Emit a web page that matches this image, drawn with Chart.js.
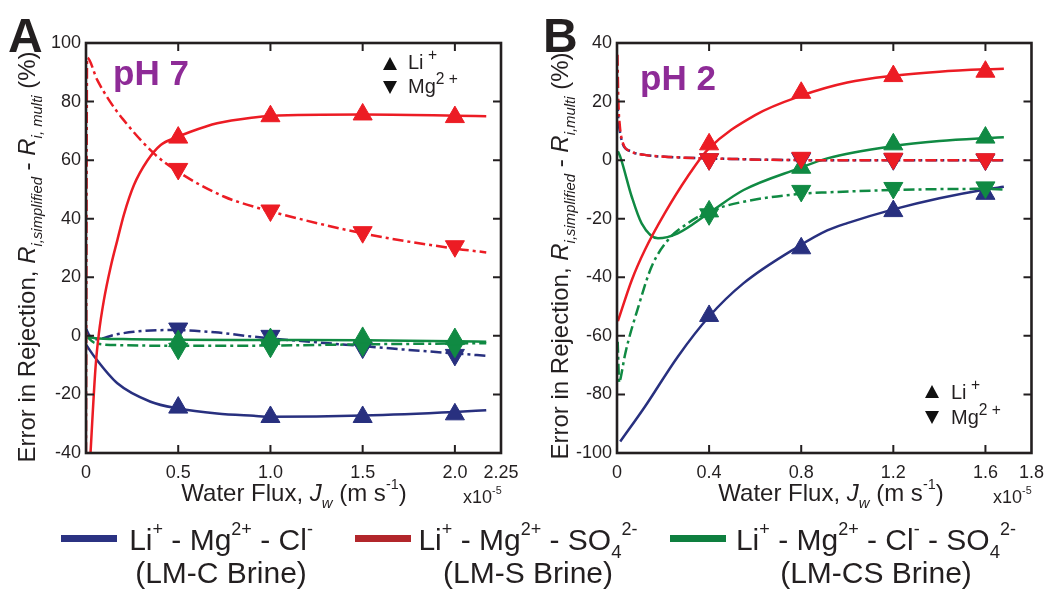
<!DOCTYPE html>
<html>
<head>
<meta charset="utf-8">
<script src="https://cdn.jsdelivr.net/npm/chart.js@4.4.1/dist/chart.umd.min.js"></script>
<style>
  html, body { margin: 0; padding: 0; background: #fff; }
  #page { position: relative; width: 1053px; height: 590px; overflow: hidden;
          font-family: 'Liberation Sans', Arial, sans-serif; color: #231F20; }
  canvas { position: absolute; top: 0; }
  .txt { position: absolute; white-space: nowrap; line-height: 1; }
  .letter { font-size: 48px; font-weight: bold; color: #231F20; }
  .ph { font-size: 35px; font-weight: bold; color: #8E2B97; }
  .anchor { position: absolute; width: 0; height: 0; }
  .rot { position: absolute; left: 0; top: 0; white-space: nowrap; line-height: 1;
         font-size: 24px; transform: translate(-50%, -50%) rotate(-90deg); }
  .xt { font-size: 24px; transform: translateX(-50%); }
  .sub { font-size: 0.62em; position: relative; top: 0.45em; line-height: 0; }
  .sup { font-size: 0.6em; position: relative; top: -0.85em; line-height: 0; }
  .ins .sup { font-size: 0.78em; top: -0.55em; }
  .tri-up { position: absolute; width: 0; height: 0; border-left: 7.5px solid transparent;
            border-right: 7.5px solid transparent; border-bottom: 13px solid #111; }
  .tri-dn { position: absolute; width: 0; height: 0; border-left: 7.5px solid transparent;
            border-right: 7.5px solid transparent; border-top: 13px solid #111; }
  .ins { font-size: 20px; }
  .bar { position: absolute; height: 7px; width: 56px; }
  .leg { position: absolute; font-size: 30px; line-height: 33px; text-align: center;
         transform: translateX(-50%); white-space: nowrap; }
</style>
</head>
<body>
<div id="page">
  <canvas id="chartA" width="530" height="520" style="left:0"></canvas>
  <canvas id="chartB" width="523" height="520" style="left:530px"></canvas>

  <div class="txt letter" style="left:8px;top:12px">A</div>
  <div class="txt letter" style="left:543px;top:12px">B</div>
  <div class="txt ph" style="left:113px;top:55px">pH 7</div>
  <div class="txt ph" style="left:640px;top:60px">pH 2</div>

  <div class="tri-up" style="left:383px;top:57px"></div>
  <div class="tri-dn" style="left:383px;top:81px"></div>
  <div class="txt ins" style="left:408px;top:52px">Li<span class="sup">&nbsp;+</span></div>
  <div class="txt ins" style="left:408px;top:76px">Mg<span class="sup">2&nbsp;+</span></div>

  <div class="tri-up" style="left:925px;top:385px"></div>
  <div class="tri-dn" style="left:925px;top:411px"></div>
  <div class="txt ins" style="left:951px;top:382px">Li<span class="sup">&nbsp;+</span></div>
  <div class="txt ins" style="left:951px;top:407px">Mg<span class="sup">2&nbsp;+</span></div>

  <div class="anchor" style="left:27px;top:257px"><div class="rot">Error in Rejection, <i>R</i><span class="sub"><i>i,simplified</i></span> - <i>R</i><span class="sub"><i>i, multi</i></span> (%)</div></div>
  <div class="anchor" style="left:560px;top:256px"><div class="rot">Error in Rejection, <i>R</i><span class="sub"><i>i,simplified</i></span> - <i>R</i><span class="sub"><i>i,multi</i></span> (%)</div></div>

  <div class="txt xt" style="left:294px;top:481px">Water Flux, <i>J</i><span class="sub"><i>w</i></span> (m s<span class="sup">-1</span>)</div>
  <div class="txt xt" style="left:831px;top:481px">Water Flux, <i>J</i><span class="sub"><i>w</i></span> (m s<span class="sup">-1</span>)</div>
  <div class="txt" style="left:463px;top:488px;font-size:18px">x10<span class="sup">-5</span></div>
  <div class="txt" style="left:993px;top:488px;font-size:18px">x10<span class="sup">-5</span></div>

  <div class="bar" style="left:61px;top:535px;background:#2B3282"></div>
  <div class="leg" style="left:221px;top:523px">Li<span class="sup">+</span> - Mg<span class="sup">2+</span> - Cl<span class="sup">-</span><br>(LM-C Brine)</div>
  <div class="bar" style="left:355px;top:535px;background:#B2262B"></div>
  <div class="leg" style="left:528px;top:523px">Li<span class="sup">+</span> - Mg<span class="sup">2+</span> - SO<span class="sub">4</span><span class="sup">2-</span><br>(LM-S Brine)</div>
  <div class="bar" style="left:670px;top:535px;background:#0E7F3F"></div>
  <div class="leg" style="left:876px;top:523px">Li<span class="sup">+</span> - Mg<span class="sup">2+</span> - Cl<span class="sup">-</span> - SO<span class="sub">4</span><span class="sup">2-</span><br>(LM-CS Brine)</div>
</div>

<script>
// ---- panel A, pH 7 ----
const ticksXA = [0, 0.5, 1.0, 1.5, 2.0, 2.25];
const labelsXA = ['0', '0.5', '1.0', '1.5', '2.0', '2.25'];
const ticksYA = [-40, -20, 0, 20, 40, 60, 80, 100];
const fluxA = [0.5, 1.0, 1.5, 2.0];
const liA_C  = [-24.5, -27.7, -27.7, -26.8];
const mgA_C  = [2.5, 0, -4, -6.5];
const liA_S  = [67.7, 75, 75.6, 74.7];
const mgA_S  = [57, 42.8, 35.4, 30.6];
const liA_CS = [-1.8, -1.1, -0.7, -1.1];
const mgA_CS = [-4.4, -3.7, -3.3, -3.7];

// model curves, pH 7
const cxA_C_li = [0, 0.05, 0.17, 0.35, 0.5, 0.71, 0.91, 1.0, 1.5, 2.0, 2.17];
const cyA_C_li = [-3, -7.5, -16.2, -22.5, -24.8, -26.5, -27.3, -27.6, -27.2, -26, -25.4];
const cxA_C_mg = [0, 0.02, 0.06, 0.15, 0.26, 0.48, 0.7, 0.91, 1.25, 1.5, 1.75, 2.0, 2.17];
const cyA_C_mg = [2.5, 0, -1.2, 0.3, 1.4, 2, 1.2, -0.3, -2.2, -3.5, -4.8, -6, -6.8];
const cxA_S_li = [0.02, 0.052, 0.07, 0.097, 0.134, 0.17, 0.206, 0.26, 0.332, 0.405, 0.5, 0.567, 0.711, 0.91, 1.0, 1.5, 2.0, 2.17];
const cyA_S_li = [-45, -10.5, 0.9, 12.2, 23.6, 32.7, 41.5, 51.5, 59.8, 65.2, 68, 69.7, 72.6, 74.6, 75.1, 75.6, 75.2, 75];
const cxA_S_mg = [0, 0.006, 0.06, 0.125, 0.2, 0.368, 0.5, 0.75, 0.91, 1.0, 1.5, 2.0, 2.17];
const cyA_S_mg = [-40, 95, 87.5, 80.5, 74, 62.3, 56, 47.5, 44.1, 42.5, 35, 29.8, 28.5];
const cxA_CS_li = [0, 0.05, 0.2, 0.5, 1.0, 1.5, 2.0, 2.17];
const cyA_CS_li = [-0.3, -0.8, -1.1, -1.3, -1.4, -1.5, -1.8, -2];
const cxA_CS_mg = [0, 0.05, 0.2, 0.5, 1.0, 1.5, 2.0, 2.17];
const cyA_CS_mg = [0, -2.5, -3.2, -3.4, -3.3, -2.9, -2.6, -2.5];

// ---- panel B, pH 2 ----
const ticksXB = [0, 0.4, 0.8, 1.2, 1.6, 1.8];
const labelsXB = ['0', '0.4', '0.8', '1.2', '1.6', '1.8'];
const ticksYB = [-100, -80, -60, -40, -20, 0, 20, 40];
const fluxB = [0.4, 0.8, 1.2, 1.6];
const liB_C  = [-53.2, -30.1, -17.4, -11.5];
const mgB_C  = [0.3, 0.5, 0.3, 0.2];
const liB_S  = [5.4, 23, 28.7, 30.2];
const mgB_S  = [0.3, 0.8, 0.5, 0.3];
const liB_CS = [-17.5, -2.6, 5.4, 7.7];
const mgB_CS = [-18.5, -10.5, -9.5, -9.3];

// model curves, pH 2
const cxB_C_li = [0.014, 0.121, 0.264, 0.4, 0.55, 0.785, 0.913, 1.0, 1.2, 1.4, 1.6, 1.68];
const cyB_C_li = [-96.1, -84.2, -67.1, -53.4, -42, -29.6, -24, -21.5, -16.8, -13, -10, -9.1];
const cxB_C_mg = [0.002, 0.006, 0.012, 0.025, 0.06, 0.12, 0.25, 0.5, 0.8, 1.2, 1.6, 1.68];
const cyB_C_mg = [20.5, 14, 10, 5.5, 3, 1.8, 1, 0.4, 0, 0, 0, 0];
const cxB_S_li = [0.004, 0.064, 0.121, 0.207, 0.307, 0.393, 0.6, 0.8, 1.0, 1.2, 1.4, 1.6, 1.68];
const cyB_S_li = [-55, -41, -30.7, -18.2, -5.6, 3.5, 15.4, 22, 26.5, 28.8, 30.2, 31, 31.2];
const cxB_S_mg = [0.002, 0.006, 0.012, 0.025, 0.06, 0.12, 0.25, 0.5, 0.8, 1.2, 1.6, 1.68];
const cyB_S_mg = [36, 20, 12, 6, 3, 1.8, 1, 0.4, 0, 0, 0, 0];
const cxB_CS_li = [0.004, 0.014, 0.064, 0.107, 0.178, 0.264, 0.4, 0.55, 0.79, 0.913, 1.2, 1.4, 1.6, 1.68];
const cyB_CS_li = [3, 1.2, -12.5, -21.6, -26.7, -25, -18, -10.2, -2.8, 0.6, 4.8, 6.5, 7.5, 7.8];
const cxB_CS_mg = [0.003, 0.01, 0.014, 0.036, 0.093, 0.15, 0.221, 0.307, 0.4, 0.55, 0.8, 0.913, 1.2, 1.4, 1.6, 1.68];
const cyB_CS_mg = [-62, -76, -75, -66, -50, -36.4, -27.3, -21.6, -17.5, -14.2, -11.5, -11, -10.2, -9.9, -9.8, -10];

const BLUE = '#28307F', RED = '#EC1C24', GREEN = '#108A43', INK = '#231F20';
const DASH = [11, 4, 3, 4];

function pts(xs, ys) { return xs.map((x, i) => ({ x: x, y: ys[i] })); }

function curve(xs, ys, color, dashed, order) {
  return { data: pts(xs, ys), borderColor: color, borderWidth: 2.5,
           borderDash: dashed ? DASH : [], pointRadius: 0, fill: false,
           cubicInterpolationMode: 'monotone', order: order };
}
function marks(xs, ys, color, down, order) {
  return { data: pts(xs, ys), showLine: false, pointStyle: 'triangle', pointRadius: 11,
           pointRotation: down ? 180 : 0, backgroundColor: color, borderColor: color,
           borderWidth: 1, order: order };
}

// frame round the plot with inward tick marks on all four sides
const framePlugin = {
  id: 'frame',
  afterDatasetsDraw(chart) {
    const { ctx, chartArea: a, scales: { x, y } } = chart;
    ctx.save();
    ctx.strokeStyle = INK;
    ctx.lineWidth = 2;
    ctx.beginPath();
    x.ticks.forEach(t => {
      if (t.value <= x.min || t.value >= x.max) return;
      const px = x.getPixelForValue(t.value);
      ctx.moveTo(px, a.bottom); ctx.lineTo(px, a.bottom - 8);
      ctx.moveTo(px, a.top); ctx.lineTo(px, a.top + 8);
    });
    y.ticks.forEach(t => {
      if (t.value <= y.min || t.value >= y.max) return;
      const py = y.getPixelForValue(t.value);
      ctx.moveTo(a.left, py); ctx.lineTo(a.left + 8, py);
      ctx.moveTo(a.right, py); ctx.lineTo(a.right - 8, py);
    });
    ctx.stroke();
    ctx.lineWidth = 2.6;
    ctx.strokeRect(a.left, a.top, a.right - a.left, a.bottom - a.top);
    ctx.restore();
  }
};

function makePanel(id, p) {
  new Chart(document.getElementById(id), {
    type: 'line',
    data: { datasets: p.datasets },
    options: {
      responsive: false,
      animation: false,
      layout: { padding: { left: 0, top: 43, right: p.padRight, bottom: 0 } },
      plugins: { legend: { display: false }, tooltip: { enabled: false } },
      scales: {
        x: {
          type: 'linear', min: p.xTicks[0], max: p.xTicks[p.xTicks.length - 1],
          grid: { display: false, drawTicks: false }, border: { display: false },
          afterBuildTicks: s => { s.ticks = p.xTicks.map(v => ({ value: v })); },
          afterFit: s => { s.height = 67; },
          ticks: { autoSkip: false, maxRotation: 0, padding: 9, color: INK,
                   font: { family: "'Liberation Sans', Arial", size: 18 },
                   callback: (v, i) => p.xLabels[i] }
        },
        y: {
          type: 'linear', min: p.yTicks[0], max: p.yTicks[p.yTicks.length - 1],
          grid: { display: false, drawTicks: false }, border: { display: false },
          afterBuildTicks: s => { s.ticks = p.yTicks.map(v => ({ value: v })); },
          afterFit: s => { s.width = p.axisWidth; },
          ticks: { autoSkip: false, padding: 5, color: INK,
                   font: { family: "'Liberation Sans', Arial", size: 18 },
                   callback: v => String(v) }
        }
      }
    },
    plugins: [framePlugin]
  });
}

makePanel('chartA', {
  xTicks: ticksXA, xLabels: labelsXA, yTicks: ticksYA, axisWidth: 86, padRight: 29,
  datasets: [
    curve(cxA_C_li, cyA_C_li, BLUE, false, 9),
    curve(cxA_C_mg, cyA_C_mg, BLUE, true, 9),
    curve(cxA_CS_li, cyA_CS_li, GREEN, false, 8),
    curve(cxA_CS_mg, cyA_CS_mg, GREEN, true, 8),
    curve(cxA_S_li, cyA_S_li, RED, false, 7),
    curve(cxA_S_mg, cyA_S_mg, RED, true, 7),
    marks(fluxA, liA_C, BLUE, false, 3),
    marks(fluxA, mgA_C, BLUE, true, 3),
    marks(fluxA, liA_CS, GREEN, false, 2),
    marks(fluxA, mgA_CS, GREEN, true, 2),
    marks(fluxA, liA_S, RED, false, 1),
    marks(fluxA, mgA_S, RED, true, 1)
  ]
});

makePanel('chartB', {
  xTicks: ticksXB, xLabels: labelsXB, yTicks: ticksYB, axisWidth: 87, padRight: 14,
  datasets: [
    curve(cxB_C_li, cyB_C_li, BLUE, false, 9),
    curve(cxB_C_mg, cyB_C_mg, BLUE, true, 9),
    curve(cxB_CS_li, cyB_CS_li, GREEN, false, 8),
    curve(cxB_CS_mg, cyB_CS_mg, GREEN, true, 8),
    curve(cxB_S_li, cyB_S_li, RED, false, 7),
    curve(cxB_S_mg, cyB_S_mg, RED, true, 7),
    marks(fluxB, liB_C, BLUE, false, 3),
    marks(fluxB, mgB_C, BLUE, true, 3),
    marks(fluxB, liB_CS, GREEN, false, 2),
    marks(fluxB, mgB_CS, GREEN, true, 2),
    marks(fluxB, liB_S, RED, false, 1),
    marks(fluxB, mgB_S, RED, true, 1)
  ]
});
</script>
</body>
</html>
